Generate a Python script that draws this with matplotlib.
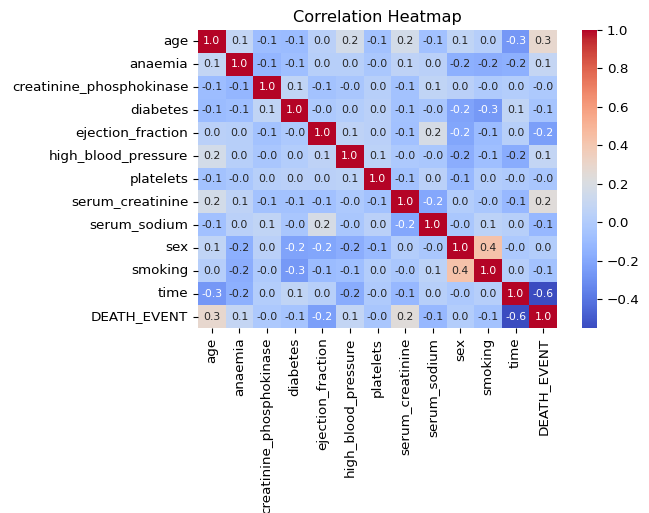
import numpy as np
import matplotlib
matplotlib.use("Agg")
import matplotlib.pyplot as plt
import seaborn as sns

labels = ["age", "anaemia", "creatinine_phosphokinase", "diabetes", "ejection_fraction",
          "high_blood_pressure", "platelets", "serum_creatinine", "serum_sodium", "sex",
          "smoking", "time", "DEATH_EVENT"]

age        = [1.00, 0.08, -0.09, -0.10, 0.04, 0.16, -0.06, 0.16, -0.07, 0.07, 0.02, -0.27, 0.29]
anaemia    = [0.08, 1.00, -0.13, -0.08, 0.03, 0.03, -0.03, 0.06, 0.04, -0.16, -0.17, -0.16, 0.09]
cpk        = [-0.09, -0.13, 1.00, 0.07, -0.06, -0.04, 0.03, -0.06, 0.07, 0.04, -0.01, 0.01, -0.02]
diabetes   = [-0.10, -0.08, 0.07, 1.00, -0.02, 0.01, 0.04, -0.06, -0.04, -0.22, -0.26, 0.07, -0.05]
ejection   = [0.04, 0.03, -0.06, -0.02, 1.00, 0.06, 0.04, -0.07, 0.18, -0.21, -0.10, 0.03, -0.24]
hbp        = [0.16, 0.03, -0.04, 0.01, 0.06, 1.00, 0.05, -0.02, -0.03, -0.17, -0.08, -0.18, 0.08]
platelets  = [-0.06, -0.03, 0.03, 0.04, 0.04, 0.05, 1.00, -0.06, 0.04, -0.11, 0.01, -0.01, -0.04]
serum_cr   = [0.16, 0.06, -0.06, -0.06, -0.07, -0.02, -0.06, 1.00, -0.20, 0.01, -0.03, -0.12, 0.24]
serum_na   = [-0.07, 0.04, 0.07, -0.04, 0.18, -0.03, 0.04, -0.20, 1.00, -0.03, 0.05, 0.03, -0.12]
sex        = [0.07, -0.16, 0.04, -0.22, -0.21, -0.17, -0.11, 0.01, -0.03, 1.00, 0.43, -0.02, 0.01]
smoking    = [0.02, -0.17, -0.01, -0.26, -0.10, -0.08, 0.01, -0.03, 0.05, 0.43, 1.00, 0.02, -0.06]
time       = [-0.27, -0.16, 0.01, 0.07, 0.03, -0.18, -0.01, -0.12, 0.03, -0.02, 0.02, 1.00, -0.55]
death      = [0.29, 0.09, -0.02, -0.05, -0.24, 0.08, -0.04, 0.24, -0.12, 0.01, -0.06, -0.55, 1.00]

corr = np.array([age, anaemia, cpk, diabetes, ejection, hbp, platelets,
                 serum_cr, serum_na, sex, smoking, time, death])

fig = plt.figure(figsize=(6.49, 5.13), dpi=100)
ax = fig.add_axes([198/649, 1 - 328/513, 359/649, 298/513])
cax = fig.add_axes([582/649, 1 - 328/513, 15/649, 298/513])
sns.heatmap(corr, annot=True, fmt=".1f", cmap="coolwarm", ax=ax, cbar_ax=cax,
            xticklabels=labels, yticklabels=labels, annot_kws={"size": 7.8})
ax.set_title("Correlation Heatmap", fontsize=11.6)
ax.tick_params(labelsize=9.7)
cax.tick_params(labelsize=9.7)
fig.savefig("out.png", dpi=100)
